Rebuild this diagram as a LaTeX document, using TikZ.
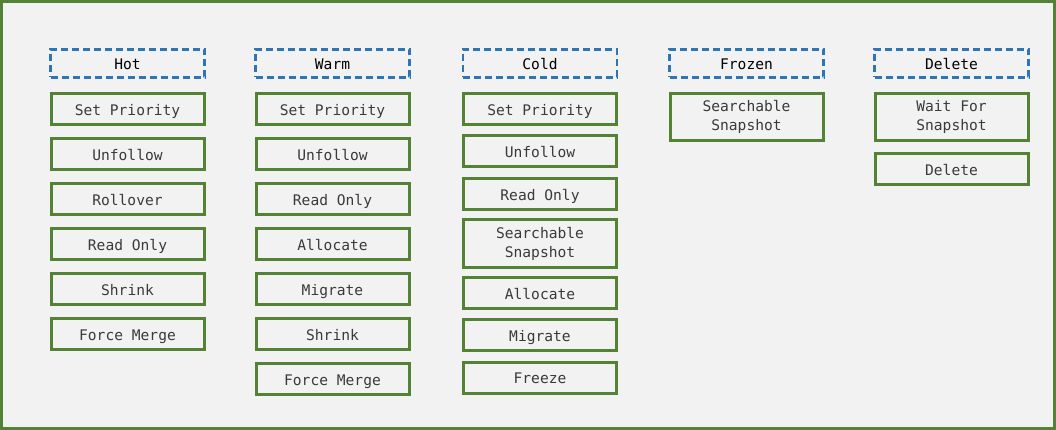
\documentclass[tikz,border=0pt]{standalone}
\usepackage{fontspec}
\setmonofont{DejaVu Sans Mono}
\usetikzlibrary{positioning}
\definecolor{phasegreen}{HTML}{548235}
\definecolor{phaseblue}{HTML}{2E75B6}
\definecolor{panelgray}{HTML}{F2F2F2}
\definecolor{actiontext}{HTML}{3A3A3A}

\begin{document}
\begin{tikzpicture}[x=1pt,y=-1pt,
		phase/.style={draw=phaseblue, line width=2.2pt, dash pattern=on 7pt off 4pt,
			minimum width=154pt, minimum height=28pt, inner sep=0pt,
			text height=13pt, text depth=0.5pt,
			font=\ttfamily\fontsize{14.6}{19}\selectfont, text=black},
		action/.style={draw=phasegreen, line width=3pt,
			minimum width=153pt, minimum height=31pt, inner sep=0pt,
			text height=13pt, text depth=0.5pt,
			font=\ttfamily\fontsize{14.6}{19}\selectfont, text=actiontext},
		twoline/.style={draw=phasegreen, line width=3pt,
			minimum width=153pt, minimum height=47pt, inner sep=0pt, align=center,
			font=\ttfamily\fontsize{14.6}{19}\selectfont, text=actiontext}]
	% panel
	\draw[phasegreen, line width=3pt, fill=panelgray] (1.5,1.5) rectangle (1054.5,428.5);
	
	% phases
	\node[phase] (hot) at (127.5,63.5) {Hot};
	\node[phase] (warm) at (332.5,63.5) {Warm};
	\node[phase] (cold) at (540,63.5) {Cold};
	\node[phase] (frozen) at (746.5,63.5) {Frozen};
	\node[phase] (delete) at (951.5,63.5) {Delete};
	
	% hot actions
	\foreach \txt [count=\i] in {Set Priority, Unfollow, Rollover, Read Only, Shrink, Force Merge}
		\node[action] (hot\i) at (127.5,64+45*\i) {\txt};
	
	% warm actions
	\foreach \txt [count=\i] in {Set Priority, Unfollow, Read Only, Allocate, Migrate, Shrink, Force Merge}
		\node[action] (warm\i) at (332.5,64+45*\i) {\txt};
	
	% cold actions
	\node[action] (cold1) at (540,109) {Set Priority};
	\node[action] (cold2) at (540,151.5) {Unfollow};
	\node[action] (cold3) at (540,194) {Read Only};
	\node[twoline] (cold4) at (540,243.5) {Searchable\\Snapshot};
	\node[action] (cold5) at (540,293) {Allocate};
	\node[action] (cold6) at (540,335) {Migrate};
	\node[action] (cold7) at (540,377.5) {Freeze};
	
	% frozen actions
	\node[twoline] (frozen1) at (746.5,117) {Searchable\\Snapshot};
	
	% delete actions
	\node[twoline] (delete1) at (951.5,117) {Wait For\\Snapshot};
	\node[action] (delete2) at (951.5,169.5) {Delete};
\end{tikzpicture}
\end{document}
